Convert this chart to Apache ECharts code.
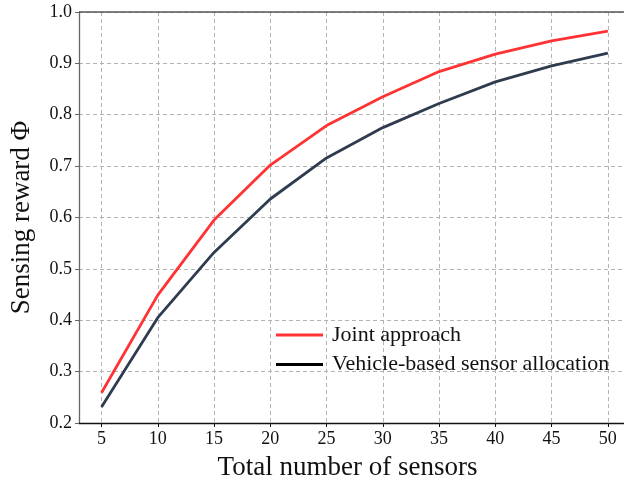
<!DOCTYPE html>
<html>
<head>
<meta charset="utf-8">
<script src="https://cdn.jsdelivr.net/npm/echarts@6/dist/echarts.min.js"></script>
<style>
html,body{margin:0;padding:0;background:#fff;}
#chart{width:624px;height:487px;}
</style>
</head>
<body>
<div id="chart"></div>
<script>
var sensors = [5, 10, 15, 20, 25, 30, 35, 40, 45, 50];
var jointApproach = [0.259, 0.449, 0.595, 0.702, 0.779, 0.835, 0.884, 0.918, 0.944, 0.963];
var vehicleBased = [0.231, 0.405, 0.532, 0.636, 0.716, 0.775, 0.822, 0.864, 0.895, 0.920];
var xTicks = [5, 10, 15, 20, 25, 30, 35, 40, 45, 50];
var yTicks = [0.2, 0.3, 0.4, 0.5, 0.6, 0.7, 0.8, 0.9, 1.0];

function pairs(xs, ys) { return xs.map(function (x, i) { return [x, ys[i]]; }); }

var font = '"Liberation Serif", "Times New Roman", serif';
var chart = echarts.init(document.getElementById('chart'));
chart.setOption({
  animation: false,
  backgroundColor: '#fff',
  grid: { left: 79, top: 12, width: 557, height: 411, containLabel: false, outerBoundsMode: 'none' },
  xAxis: {
    type: 'value', min: 3, max: 52.5,
    name: 'Total number of sensors', nameLocation: 'middle', nameGap: 31,
    nameTextStyle: { fontFamily: font, fontSize: 27, color: '#111', padding: [0, 20, 0, 0] },
    axisLine: { lineStyle: { color: '#111', width: 1.3 } },
    axisTick: { show: true, length: 4, inside: false, customValues: xTicks, lineStyle: { color: '#111' } },
    axisLabel: { customValues: xTicks, fontFamily: font, fontSize: 18, color: '#111', margin: 7 },
    splitLine: { show: true, lineStyle: { color: '#b3b3b3', type: [4, 3], width: 1 } }
  },
  yAxis: {
    type: 'value', min: 0.2, max: 1.0, interval: 0.1,
    name: 'Sensing reward Φ', nameLocation: 'middle', nameGap: 44,
    nameTextStyle: { fontFamily: font, fontSize: 27, color: '#111' },
    axisLine: { show: true, lineStyle: { color: '#666', width: 1.3 } },
    axisTick: { show: true, length: 4, lineStyle: { color: '#666' } },
    axisLabel: { fontFamily: font, fontSize: 18, color: '#111', margin: 7,
      formatter: function (v) { return v.toFixed(1); } },
    splitLine: { show: true, lineStyle: { color: '#b3b3b3', type: [4, 3], width: 1 } }
  },
  graphic: [{
    type: 'line', shape: { x1: 79, y1: 12, x2: 624, y2: 12 },
    style: { stroke: '#555', lineWidth: 1.3 }, z: 10
  }],
  legend: {
    orient: 'vertical', left: 276, top: 324, padding: 0,
    itemWidth: 47, itemHeight: 14, itemGap: 7.5,
    textStyle: { fontFamily: font, fontSize: 22, color: '#111', padding: [0, 0, 0, 4] },
    data: [
      { name: 'Joint approach', icon: 'path://M0,0L46,0L46,3L0,3Z', itemStyle: { color: '#ff3333' } },
      { name: 'Vehicle-based sensor allocation', icon: 'path://M0,0L46,0L46,3L0,3Z', itemStyle: { color: '#000' } }
    ]
  },
  series: [
    { name: 'Joint approach', type: 'line', data: pairs(sensors, jointApproach),
      showSymbol: false, symbol: 'none', lineStyle: { color: '#ff3333', width: 2.8 }, itemStyle: { color: '#ff3333' } },
    { name: 'Vehicle-based sensor allocation', type: 'line', data: pairs(sensors, vehicleBased),
      showSymbol: false, symbol: 'none', lineStyle: { color: '#2f3c50', width: 2.8 }, itemStyle: { color: '#2f3c50' } }
  ]
});
</script>
</body>
</html>
